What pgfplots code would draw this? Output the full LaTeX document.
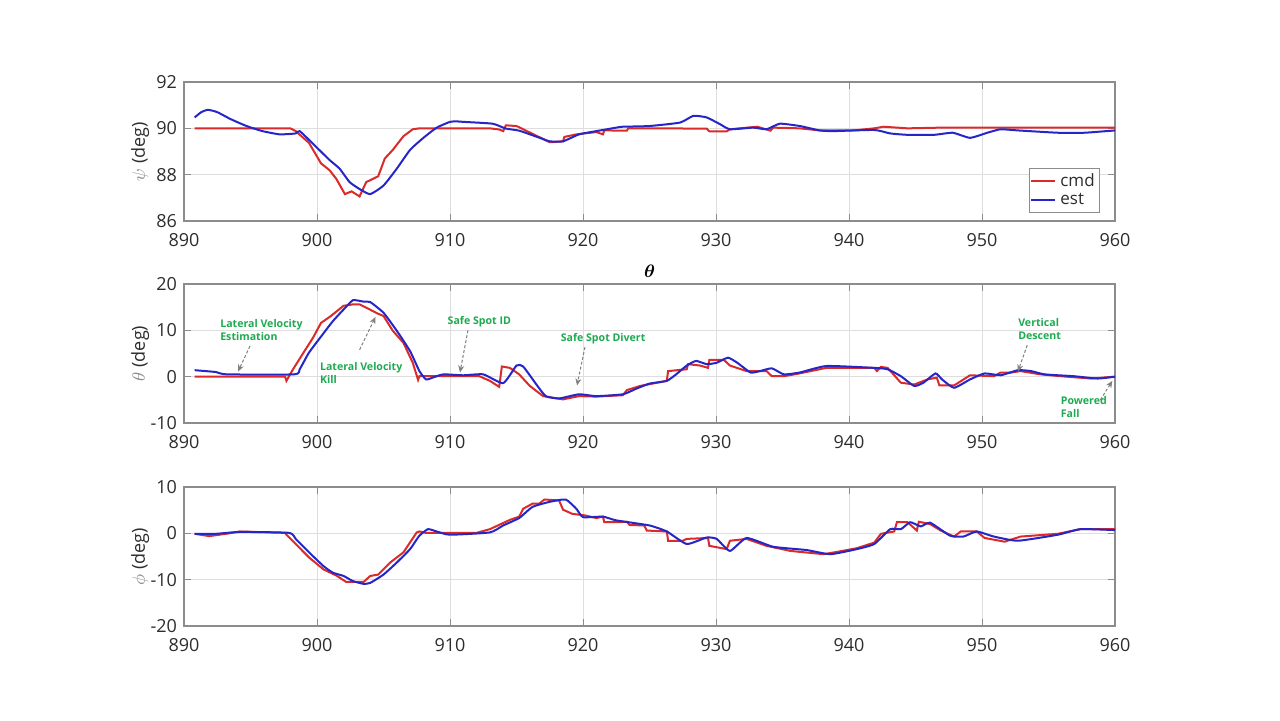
\documentclass[border=0pt]{standalone}
\usepackage{fontspec}
\setmainfont{Open Sans}
\usepackage{amsmath}
\usepackage{pgfplots}
\pgfplotsset{compat=1.18}
\usetikzlibrary{arrows.meta}
\definecolor{cmdred}{RGB}{218,42,42}
\definecolor{estblue}{RGB}{38,38,200}
\definecolor{anngreen}{RGB}{30,170,80}
\definecolor{tickgray}{RGB}{45,45,45}
\definecolor{axgray}{RGB}{140,140,140}
\tikzset{
  ann/.style={font=\fontsize{5.3}{6.3}\selectfont\bfseries, text=anngreen, align=left, anchor=west, inner sep=0pt},
  annarr/.style={draw=black!50, dashed, dash pattern=on 1.5pt off 1pt, line width=0.5pt, -{Stealth[length=3.5pt,width=3pt]}},
}
\pgfplotsset{
  every axis/.append style={
    scale only axis, width=465.5pt, height=69.5pt,
    anchor=south west,
    xmin=890, xmax=960, xtick={890,900,...,960},
    grid=major, major grid style={draw=black!13, line width=0.4pt},
    axis line style={draw=axgray, line width=0.6pt},
    tick style={draw=axgray, line width=0.5pt},
    tick align=inside, major tick length=3.5pt,
    ticklabel style={font=\fontsize{9}{11}\selectfont, text=tickgray},
    /pgf/number format/assume math mode=true,
    x tick label style={yshift=-2.5pt},
    ylabel style={at={(axis description cs:-0.047,0.5)}, anchor=center, font=\fontsize{9}{11}\selectfont, text=tickgray},
    every axis plot/.append style={line width=1pt},
  },
}
\begin{document}
\begin{tikzpicture}
\path[use as bounding box, fill=white] (0,0) rectangle (640pt,360pt);

% ---------- top: psi ----------
\begin{axis}[at={(92pt,249.5pt)}, ymin=86, ymax=92, ytick={86,88,90,92},
  ylabel={\textcolor{black!45}{$\psi$} (deg)},
  legend style={at={(rel axis cs:0.984,0.058)}, anchor=south east, draw=axgray, font=\fontsize{8.5}{9.5}\selectfont, text=tickgray, inner sep=0.5pt, row sep=-2pt, cells={anchor=west}},
  legend image code/.code={\draw[#1] (0pt,0pt) -- (12pt,0pt);},
]
\addplot[cmdred] coordinates {(890.8,90) (898,90) (898.4,89.88) (899.4,89.37) (900.3,88.49) (900.95,88.19) (901.45,87.82) (902.1,87.16) (902.6,87.28) (903.2,87.06) (903.7,87.68) (903.96,87.75) (904.6,87.93) (905.1,88.7) (905.7,89.07) (906.5,89.66) (907.2,89.96) (907.7,90) (913,90) (913.7,89.95) (914,89.88) (914.2,90.13) (915,90.1) (915.5,89.96) (916.5,89.68) (917.5,89.4) (918.5,89.44) (918.6,89.63) (919.5,89.74) (921,89.84) (921.5,89.74) (921.6,89.91) (923.3,89.9) (923.4,90.0) (929.3,89.99) (929.5,89.87) (930.8,89.87) (931.05,89.96) (933.1,90.07) (934.1,89.9) (934.3,90.03) (936.3,90.0) (937.8,89.91) (940.35,89.91) (941.9,90.0) (942.6,90.07) (944.4,90.0) (946.9,90.03) (960,90.03)};
\addlegendentry{cmd}
\addplot[estblue, smooth, tension=0.3] coordinates {(890.8,90.47) (891.3,90.7) (891.8,90.8) (892.5,90.7) (893.5,90.4) (894.7,90.1) (895.9,89.88) (897.2,89.74) (898.4,89.78) (898.7,89.88) (899.9,89.22) (900.95,88.63) (901.7,88.26) (902.45,87.68) (903.2,87.38) (904.0,87.16) (905.0,87.53) (906.0,88.26) (907.0,89.07) (908.0,89.59) (909.0,90.03) (910.0,90.28) (910.5,90.3) (911.0,90.28) (913.2,90.2) (914.2,89.99) (915.2,89.9) (916.7,89.6) (917.5,89.44) (918.5,89.44) (919.7,89.74) (921.0,89.88) (922.5,90.03) (923,90.07) (925,90.1) (927.3,90.25) (928.3,90.54) (929.3,90.47) (930.3,90.18) (931.05,89.96) (932.8,90.03) (933.8,89.96) (934.8,90.2) (936.3,90.1) (937.8,89.91) (938.8,89.88) (941.9,89.93) (943.1,89.78) (944.4,89.72) (946.4,89.72) (947.8,89.81) (949.1,89.59) (950.4,89.81) (951.4,89.96) (952.7,89.91) (955.7,89.81) (957.7,89.81) (960,89.91)};
\addlegendentry{est}
\end{axis}

% ---------- middle: theta ----------
\begin{axis}[at={(92pt,148.5pt)}, ymin=-10, ymax=20, ytick={-10,0,10,20},
  ylabel={\textcolor{black!45}{$\theta$} (deg)},
  title={$\boldsymbol{\theta}$}, title style={at={(0.5,1)}, anchor=south, yshift=-6.5pt, font=\fontsize{9}{10}\selectfont},
]
\addplot[cmdred] coordinates {(890.8,0) (897.6,0) (897.7,-0.9) (898.2,1.6) (898.9,4.8) (899.7,8.4) (900.3,11.6) (901.0,13.0) (902.0,15.3) (902.7,15.6) (903.2,15.6) (903.7,14.9) (904.5,13.7) (905,13.1) (905.7,9.9) (906.5,7.3) (907.2,3.0) (907.6,-0.7) (907.7,0.1) (912.2,0.1) (913.0,-0.9) (913.7,-2.2) (913.9,2.2) (914.5,1.9) (915.2,0.5) (916.0,-2.0) (917.0,-4.2) (918.5,-4.9) (919.7,-4.2) (921,-4.3) (923,-4.0) (923.3,-2.9) (924.3,-2.0) (926.3,-0.9) (926.4,1.2) (927.8,1.6) (927.9,2.7) (928.8,2.4) (929.4,1.9) (929.5,3.6) (930.6,3.6) (931.05,2.4) (932.3,1.2) (933.8,1.2) (934.2,0.1) (935.1,0.1) (936.1,0.6) (938.3,1.9) (941.9,1.9) (942.1,1.2) (942.4,2.1) (942.9,1.9) (943.9,-1.3) (944.9,-1.7) (945.9,-0.6) (946.6,-0.2) (946.8,-1.9) (947.9,-1.9) (949.1,0.3) (950.9,0.1) (951.4,0.9) (952.2,0.9) (952.9,1.2) (954.4,0.5) (955.9,0.1) (958.2,-0.4) (960,0)};
\addplot[estblue, smooth, tension=0.3] coordinates {(890.8,1.4) (892.4,1.0) (893.2,0.5) (898.3,0.5) (898.7,1.6) (899.4,5.2) (900.5,9.4) (901.2,12.0) (902,14.5) (902.7,16.5) (903.5,16.2) (904,16.1) (905,13.8) (906,9.9) (907,5.5) (907.7,1.2) (908.2,-0.6) (908.7,-0.2) (909.5,0.5) (911,0.3) (912.5,0.5) (914.0,-1.4) (915,2.4) (915.5,2.2) (916.5,-1.7) (917.2,-4.2) (918.2,-4.7) (919.7,-3.8) (921,-4.2) (923,-3.8) (924,-2.6) (925,-1.5) (926.3,-0.9) (927,0.5) (927.8,2.4) (928.5,3.4) (929.3,2.7) (930.05,3.0) (930.9,4.1) (931.6,3.0) (932.6,0.9) (933.3,1.2) (934.2,1.8) (935.1,0.5) (936.3,0.9) (938.3,2.3) (941.9,1.9) (942.9,1.6) (943.9,0.1) (944.9,-2.0) (945.6,-1.3) (946.5,0.7) (947,-0.6) (947.9,-2.4) (949.1,-0.6) (950.2,0.7) (951.4,0.3) (952.7,1.4) (953.7,1.2) (954.7,0.5) (956.9,0.1) (958.7,-0.4) (960,0)};
% annotations
\node[ann] at (axis cs:892.7,10.1) {Lateral Velocity\\Estimation};
\draw[annarr] (axis cs:894.96,6.6) -- (axis cs:894.06,1.1);
\node[ann] at (axis cs:900.2,0.8) {Lateral Velocity\\Kill};
\draw[annarr] (axis cs:903.2,5.8) -- (axis cs:904.4,12.9);
\node[ann] at (axis cs:909.8,11.8) {Safe Spot ID};
\draw[annarr] (axis cs:911.35,10.0) -- (axis cs:910.75,0.9);
\node[ann] at (axis cs:918.3,8.1) {Safe Spot Divert};
\draw[annarr] (axis cs:920.15,6.4) -- (axis cs:919.55,-1.9);
\node[ann] at (axis cs:952.7,10.3) {Vertical\\Descent};
\draw[annarr] (axis cs:953.4,6.8) -- (axis cs:952.7,1.1);
\node[ann] at (axis cs:955.9,-6.5) {Powered\\Fall};
\draw[annarr] (axis cs:958.9,-5.0) -- (axis cs:959.8,-0.9);
\end{axis}

% ---------- bottom: phi ----------
\begin{axis}[at={(92pt,47pt)}, ymin=-20, ymax=10, ytick={-20,-10,0,10},
  ylabel={\textcolor{black!45}{$\phi$} (deg)},
]
\addplot[cmdred] coordinates {(890.8,-0.1) (891.9,-0.6) (893.4,0) (894.2,0.4) (897.6,0.1) (897.7,-0.3) (898.4,-2.3) (899.4,-5.2) (900.5,-7.8) (901.45,-9.1) (902.2,-10.5) (903.5,-10.5) (904,-9.2) (904.6,-8.9) (905.5,-6.3) (906.5,-4.1) (907.5,0.2) (907.7,0.4) (908.2,0.1) (912,0.1) (913,0.9) (914.5,2.9) (915.2,3.6) (915.5,5.3) (916.2,6.4) (916.7,6.4) (917.1,7.3) (918.2,7.1) (918.5,5.1) (919.2,4.2) (920.1,3.9) (921,3.3) (921.5,3.6) (921.6,2.4) (922.5,2.4) (923.3,2.5) (923.5,1.8) (924.6,1.7) (924.8,0.6) (926.3,0.4) (926.4,-1.6) (927.5,-1.6) (927.8,-1.2) (929.4,-1.0) (929.5,-2.7) (930.8,-3.4) (931.05,-1.6) (932.3,-1.2) (933.8,-2.7) (935.6,-3.8) (938.1,-4.5) (939.3,-3.9) (940.6,-3.2) (941.9,-2.0) (942.4,-0.1) (943.4,0.4) (943.6,2.4) (944.4,2.4) (945.1,0.6) (945.25,2.5) (946.1,2.0) (946.9,0.6) (947.9,-0.7) (948.4,0.4) (949.6,0.4) (950.2,-1.0) (951.7,-1.8) (952.9,-0.7) (955.7,-0.1) (957.4,0.9) (960,0.9)};
\addplot[estblue, smooth, tension=0.3] coordinates {(890.8,-0.1) (892.4,-0.1) (894.2,0.3) (897.9,0.1) (898.4,-1.2) (899.4,-4.1) (900.5,-7.1) (901.2,-8.5) (902,-9.2) (902.7,-10.3) (903.5,-10.9) (904,-10.7) (905,-8.9) (906,-6.3) (907,-3.4) (907.7,-0.5) (908.35,0.9) (909,0.4) (910,-0.3) (913,0.2) (914,1.7) (915.2,3.3) (916.2,5.7) (917.5,6.8) (918.7,7.3) (919.5,5.3) (920,3.5) (921.5,3.6) (922.5,2.8) (925,1.7) (926.3,0.4) (927.8,-2.3) (929.3,-0.9) (930.05,-1.2) (931.05,-3.8) (932.3,-1.0) (934.3,-2.9) (936.8,-3.6) (938.6,-4.5) (940.6,-3.4) (941.9,-2.3) (943.1,0.9) (943.9,0.9) (944.6,2.4) (945.4,1.5) (946.1,2.3) (947.6,-0.5) (948.6,-0.7) (949.6,0.4) (950.9,-0.7) (952.7,-1.6) (955.7,-0.3) (957.4,0.9) (960,0.7)};
\end{axis}
\end{tikzpicture}
\end{document}
